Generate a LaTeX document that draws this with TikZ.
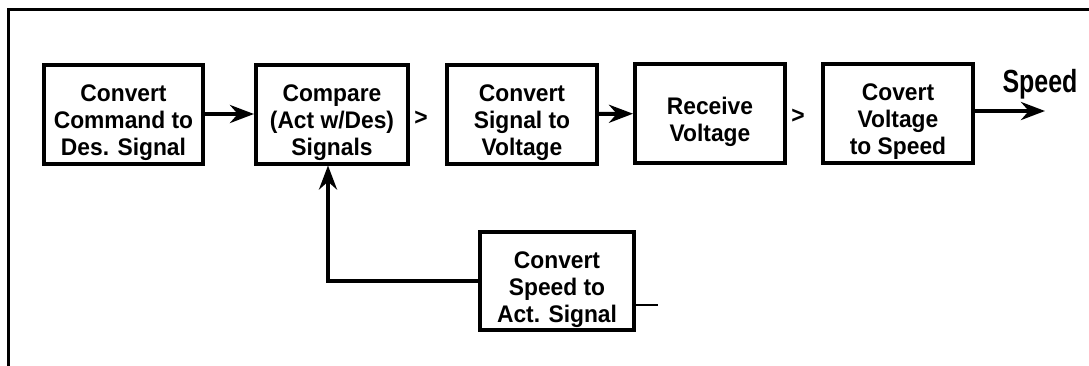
\documentclass[tikz,border=0pt]{standalone}
\usepackage{fontspec}
\setmainfont{Liberation Sans}
\newfontfamily\boxsans[FakeStretch=0.95]{Liberation Sans}
\newfontfamily\narrowsans[FakeStretch=0.78]{Liberation Sans}
\usepackage{tikz}
\usetikzlibrary{arrows.meta,calc}
\newcommand\lift{\rule{0pt}{17pt}}

\begin{document}
\begin{tikzpicture}[x=0.5pt,y=-0.5pt,
  blk/.style={draw,line width=2pt,minimum width=75pt,minimum height=49.5pt,inner sep=0pt,align=center,font=\boxsans\bfseries\fontsize{12pt}{13.3pt}\selectfont},
  arr/.style={line width=2pt,-{Stealth[length=12pt,width=9pt]}},
  gap/.style={inner sep=0pt,font=\boxsans\bfseries\fontsize{12pt}{13.3pt}\selectfont}
]
\useasboundingbox (0,0) rectangle (1089,365);
\draw[line width=1.5pt] (8,372) |- (1096,9);
\node[blk,minimum width=79.5pt] (b1) at (123.5,114) {\lift Convert\\Command to\\Des. Signal};
\node[blk,minimum width=76pt] (b2) at (332,114) {\lift Compare\\(Act w/Des)\\Signals};
\node[blk] (b3) at (522,114) {\lift Convert\\Signal to\\Voltage};
\node[blk] (b4) at (710,113.5) {\lift Receive\\Voltage};
\node[blk] (b5) at (898,113) {\lift Covert\\Voltage\\to Speed};
\node[blk,minimum width=77pt,minimum height=49pt] (b6) at (557,281) {\lift Convert\\Speed to\\Act. Signal};
\node[gap] (g1) at (421,118) {>};
\node[gap] (g2) at (798,116) {>};
\node[anchor=base,inner sep=0pt,font=\narrowsans\bfseries\fontsize{16pt}{18pt}\selectfont] (spd) at (1040,92) {Speed};
\coordinate (out) at (1045,111);
\coordinate (tail) at (658,305);
\foreach \x/\y in {b1/b2,b3/b4} \draw[arr] (\x)--(\y);
\draw[arr] (b5.east |- out)--(out);
\draw[arr] (b6)-|([xshift=-2pt]b2.south);
\draw[line width=1pt] (tail -| b6.east)--(tail);
\end{tikzpicture}
\end{document}
